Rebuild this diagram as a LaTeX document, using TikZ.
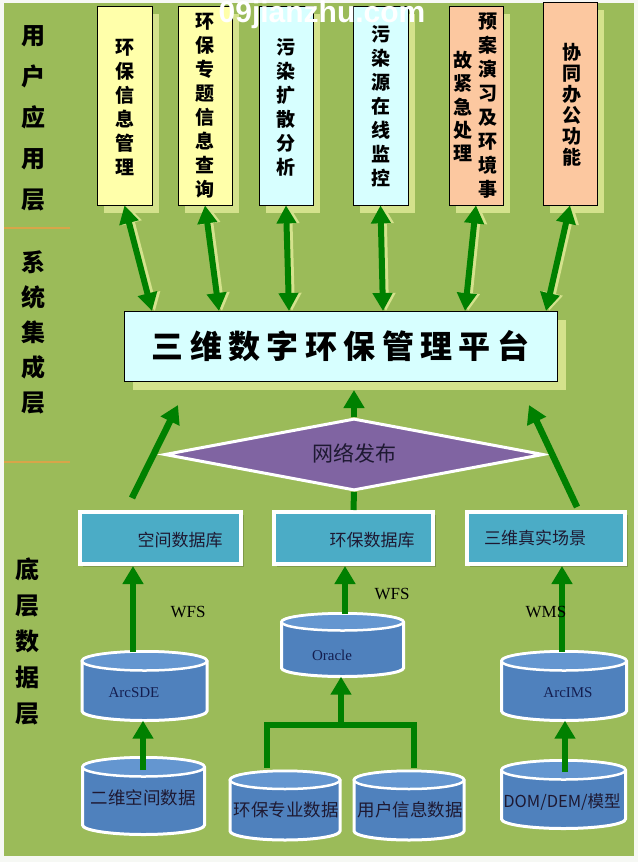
\documentclass[tikz,border=0pt]{standalone}
\usepackage{fontspec}
\setmainfont{Liberation Serif}
\newfontfamily\cjk{Noto Sans CJK SC}
\newfontfamily\cjkwide[LetterSpace=20]{Noto Sans CJK SC}
\newfontfamily\wmfont{Liberation Sans}
\usetikzlibrary{arrows.meta,shapes.geometric,shadows,calc}

\definecolor{bg}{RGB}{155,187,89}
\definecolor{outerbg}{RGB}{246,248,244}
\definecolor{pyellow}{RGB}{255,255,170}
\definecolor{pcyan}{RGB}{215,255,255}
\definecolor{ppeach}{RGB}{252,200,160}
\definecolor{shadowc}{RGB}{212,226,140}
\definecolor{arrowg}{RGB}{0,128,0}
\definecolor{boxblue}{RGB}{75,172,198}
\definecolor{cylblue}{RGB}{79,129,189}
\definecolor{cyltop}{RGB}{100,150,208}
\definecolor{purp}{RGB}{128,100,162}
\definecolor{divor}{RGB}{232,160,70}
\definecolor{txtdark}{RGB}{30,25,50}
\definecolor{txtnavy}{RGB}{20,30,80}

\newcommand\dbcyl[6]{% name, cx, ytop, ybot, rx, ry (y positive downward)
  \fill[cylblue, draw=white, line width=3] (#2-#5,-#3) -- (#2-#5,-#4)
    arc[start angle=180,end angle=360,x radius=#5,y radius=#6] -- (#2+#5,-#3)
    arc[start angle=0,end angle=180,x radius=#5,y radius=#6] -- cycle;
  \fill[cyltop, draw=white, line width=2.5] (#2,-#3) ellipse[x radius=#5,y radius=#6];
  \node[inner sep=0, minimum width=2*#5, minimum height={#4-#3+2*#6}] (#1) at (#2,{-(#3+#4)/2}) {};
}

\begin{document}
\begin{tikzpicture}[x=1pt,y=1pt,
  topbox/.style={draw=black, line width=0.8, minimum width=55, minimum height=199, inner sep=0,
    drop shadow={shadow xshift=7pt, shadow yshift=-8pt, fill=shadowc, opacity=1}},
  vtxt/.style={font=\cjk\bfseries\fontsize{19}{24}\selectfont, align=center, inner sep=0},
  sidetxt/.style={font=\cjk\bfseries\fontsize{24}{#1}\selectfont, align=center, inner sep=0},
  platbox/.style={draw=black, line width=0.8, fill=pcyan, minimum width=433, minimum height=70, inner sep=0,
    drop shadow={shadow xshift=9pt, shadow yshift=-9pt, fill=shadowc, opacity=1},
    font=\cjkwide\bfseries\fontsize{32}{32}\selectfont},
  dbbox/.style={fill=boxblue, draw=white, line width=4, minimum width=161, minimum height=52, inner sep=0,
    drop shadow={shadow xshift=3pt, shadow yshift=-3pt, fill=black, opacity=0.18}},
  dbtxt/.style={font=\cjk\fontsize{17}{17}\selectfont, text=txtdark, inner sep=0},
  cyltxt/.style={font=\cjk\fontsize{17.5}{17.5}\selectfont, text=txtdark, inner sep=0},
  lattxt/.style={font=\fontsize{15}{15}\selectfont, text=txtnavy, inner sep=0},
  prototxt/.style={font=\fontsize{17}{17}\selectfont, text=black, inner sep=0},
  garrow/.style={draw=arrowg, line width=6.5, -{Triangle[width=20pt,length=18pt]}},
  gdouble/.style={draw=arrowg, line width=6, {Triangle[width=19pt,length=18pt]}-{Triangle[width=19pt,length=18pt]}},
  gshadow/.style={draw=shadowc, line width=6, {Triangle[width=19pt,length=18pt]}-{Triangle[width=19pt,length=18pt]}, transform canvas={xshift=3pt}},
  gline/.style={draw=arrowg, line width=6},
  divline/.style={draw=divor, line width=1.4, opacity=0.8}
]
\useasboundingbox (0,0) rectangle (638,-862);
\fill[outerbg] (0,0) rectangle (638,-862);
\fill[bg] (4,-3) rectangle (634,-856);

% layer labels
\node[sidetxt=41] (lay1) at (33,-118.5) {用\\户\\应\\用\\层};
\node[sidetxt=35] (lay2) at (33,-332) {系\\统\\集\\成\\层};
\node[sidetxt=36] (lay3) at (27,-641.5) {底\\层\\数\\据\\层};
\coordinate (d1a) at (4,-228); \coordinate (d1b) at (70,-228);
\coordinate (d2a) at (4,-462); \coordinate (d2b) at (70,-462);
\draw[divline] (d1a) -- (d1b);
\draw[divline] (d2a) -- (d2b);

% top boxes
\node[topbox, fill=pyellow] (b1) at (124.5,-105.5) {};
\node[topbox, fill=pyellow, minimum width=54] (b2) at (205,-105.5) {};
\node[topbox, fill=pcyan, minimum width=54] (b3) at (286,-105.5) {};
\node[topbox, fill=pcyan] (b4) at (380.5,-105.5) {};
\node[topbox, fill=ppeach, minimum width=54] (b5) at (476,-105.5) {};
\node[topbox, fill=ppeach, minimum width=54, minimum height=203] (b6) at (570,-103.5) {};

\node[vtxt] (t1) at (124.5,-107) {环\\保\\信\\息\\管\\理};
\node[vtxt] (t2) at (205,-106) {环\\保\\专\\题\\信\\息\\查\\询};
\node[vtxt] (t3) at (286,-107) {污\\染\\扩\\散\\分\\析};
\node[vtxt] (t4) at (380.5,-106.5) {污\\染\\源\\在\\线\\监\\控};
\node[vtxt] (t5a) at (488,-106) {预\\案\\演\\习\\及\\环\\境\\事};
\node[vtxt, font=\cjk\bfseries\fontsize{19}{23.3}\selectfont] (t5b) at (463,-106.5) {故\\紧\\急\\处\\理};
\node[vtxt, font=\cjk\bfseries\fontsize{19}{21}\selectfont] (t6) at (572,-104.5) {协\\同\\办\\公\\功\\能};

% platform
\node[platbox] (plat) at (340.5,-346) {三维数字环保管理平台};

% double arrows between top boxes and platform
\coordinate (p1) at (152,-311);
\coordinate (p2) at (219,-311);
\coordinate (p3) at (289,-311);
\coordinate (p4) at (383,-311);
\coordinate (p5) at (465,-311);
\coordinate (p6) at (546,-311);
\foreach \i in {1,...,6}{
  \draw[gshadow] (b\i.south) -- (p\i);
  \draw[gdouble] (b\i.south) -- (p\i);
}

% diamond
\node[diamond, fill=purp, draw=white, line width=3, minimum width=379, minimum height=72, inner sep=0, aspect=5] (pub) at (354,-454.5) {};
\node[font=\cjk\fontsize{21}{21}\selectfont, text=txtdark, inner sep=0] (pubt) at (354,-453) {网络发布};

% blue boxes
\node[dbbox] (db1) at (160.5,-538) {};
\node[dbbox, minimum width=159] (db2) at (353.5,-538) {};
\node[dbbox, minimum width=158] (db3) at (546,-538) {};
\node[dbtxt] (db1t) at (180,-540) {空间数据库};
\node[dbtxt] (db2t) at (372,-540) {环保数据库};
\node[dbtxt] (db3t) at (535,-538) {三维真实场景};

% arrows to platform
\coordinate (u1a) at (132,-498); \coordinate (u1b) at (178,-405);
\coordinate (u2) at (354,-390);
\coordinate (u3a) at (577,-507); \coordinate (u3b) at (529,-405);
\draw[garrow] (u1a) -- (u1b);
\draw[garrow] (pub.north) -- (u2);
\draw[garrow] (u3a) -- (u3b);
\draw[gline] (db2.north) -- (pub.south);

% cylinders
\dbcyl{arcsde}{144.5}{661}{711}{62.5}{9.5}
\dbcyl{oracle}{342.5}{622}{668}{61}{8.5}
\dbcyl{arcims}{564}{661}{711}{62.5}{9.5}
\dbcyl{erwei}{143.5}{767}{825}{61}{9.5}
\dbcyl{hbzy}{285}{780}{831}{55}{9}
\dbcyl{yhxx}{409}{780}{831}{55}{9}
\dbcyl{dom}{563.5}{770}{819}{62}{9.5}

\node[lattxt] (arcsdet) at (134,-693) {ArcSDE};
\node[lattxt] (oraclet) at (332,-655) {Oracle};
\node[lattxt] (arcimst) at (568,-693) {ArcIMS};
\node[cyltxt] (erweit) at (143,-798) {二维空间数据};
\node[cyltxt] (hbzyt) at (286,-810) {环保专业数据};
\node[cyltxt] (yhxxt) at (410,-810) {用户信息数据};
\node[cyltxt, font=\cjk\fontsize{16.5}{16.5}\selectfont] (domt) at (562,-802) {DOM/DEM/模型};

% arrows from cylinders
\coordinate (s1) at (133,-652);
\coordinate (s2) at (345,-614);
\coordinate (s3) at (562,-652);
\coordinate (s4) at (143,-770);
\coordinate (s5) at (565,-772);
\draw[garrow] (s1) -- (s1 |- db1.south);
\draw[garrow] (s2) -- (s2 |- db2.south);
\draw[garrow] (s3) -- (s3 |- db3.south);
\draw[garrow] (s4) -- (s4 |- arcsde.south);
\draw[garrow] (s5) -- (s5 |- arcims.south);

% tree from two databases to Oracle
\coordinate (j1) at (267,-768);
\coordinate (j2) at (414,-768);
\coordinate (jm) at (341,-725);
\draw[gline] (j1) |- (jm) -| (j2);
\draw[garrow] (jm) -- (jm |- oracle.south);

% protocol labels (drawn over the arrows)
\node[prototxt] (wfs1) at (188,-612) {WFS};
\node[prototxt] (wfs2) at (392,-594) {WFS};
\node[prototxt] (wms) at (546,-612) {WMS};

% watermark
\node[font=\wmfont\bfseries\fontsize{30}{30}\selectfont, text=white, inner sep=0] (wm) at (322,-15) {09jianzhu.com};
\end{tikzpicture}
\end{document}
